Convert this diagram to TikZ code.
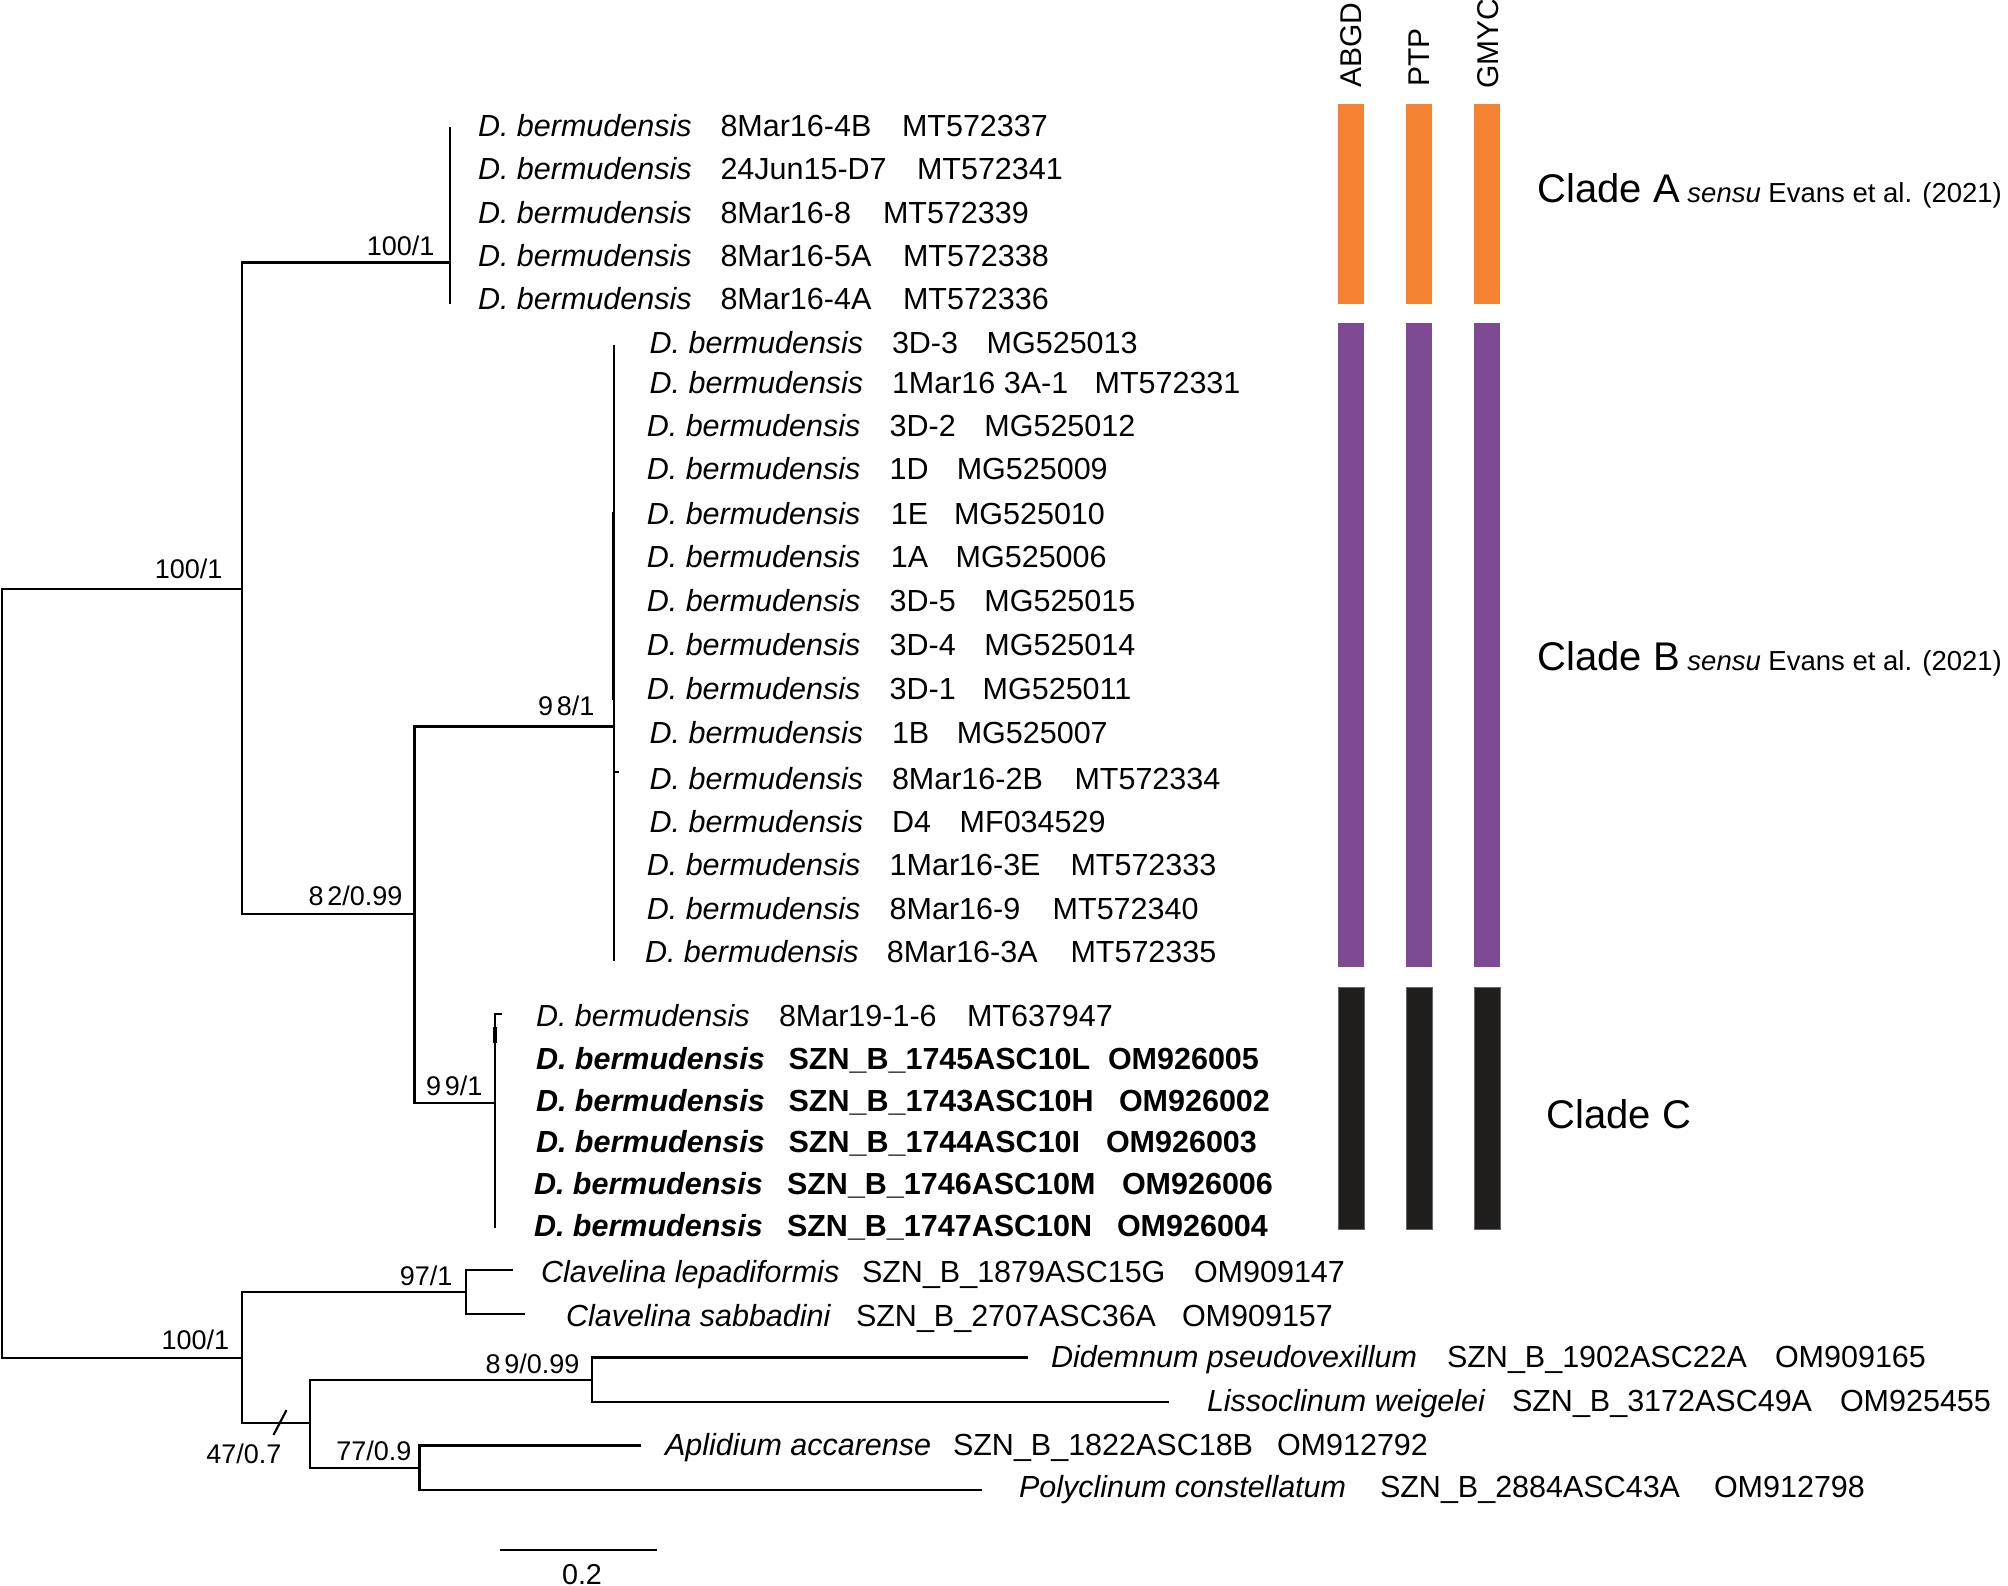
\documentclass[tikz,border=0pt]{standalone}
\usepackage{fontspec}
\setmainfont{Liberation Sans}
\definecolor{cladeA}{RGB}{245,130,50}
\definecolor{cladeB}{RGB}{127,74,148}
\definecolor{cladeC}{RGB}{32,30,28}
\newcommand{\tipR}[8]{%
  \node[tiptext] (#1s) at (#3,#2+11) {#4};
  \node[tiptext] (#1i) at (#5,#2+11) {#6};
  \node[tiptext] (#1a) at (#7,#2+11) {#8};}
\begin{document}
\begin{tikzpicture}[x=0.4pt,y=-0.4pt,
  br/.style={line width=0.85pt,line cap=rect},
  tiptext/.style={inner sep=0pt,outer sep=0pt,anchor=base west,font=\fontsize{12.2}{14}\selectfont},
  sup/.style={inner sep=0pt,anchor=base east,font=\fontsize{10.8}{12}\selectfont},
  meth/.style={inner sep=0pt,anchor=base west,rotate=90,font=\fontsize{12}{14}\selectfont},
  clade/.style={inner sep=0pt,anchor=base west,font=\fontsize{16}{18}\selectfont},
  barA/.style={fill=cladeA,draw=none},
  barB/.style={fill=cladeB,draw=none},
  barC/.style={fill=cladeC,draw=black!60,line width=0.3pt}]
\useasboundingbox (0,0) rectangle (2008,1586);
% ---------- tree coordinates
\coordinate (root) at (2,973);
\coordinate (N1) at (242,589);
\coordinate (A) at (449.6,262.5);
\coordinate (aTop) at (449.6,128);
\coordinate (aBot) at (449.6,303);
\coordinate (N2) at (414.5,914);
\coordinate (B) at (614,726.5);
\coordinate (bTop) at (614,346);
\coordinate (bBot) at (614,960);
\coordinate (bThTop) at (613.3,512);
\coordinate (bThBot) at (613.3,700);
\coordinate (bTkBase) at (614,772);
\coordinate (bTk) at (618,772);
\coordinate (C) at (495,1102.7);
\coordinate (cTopTip) at (501,1014);
\coordinate (cBot) at (495,1227);
\coordinate (cThTop) at (494.8,1027);
\coordinate (cThBot) at (494.8,1043);
\coordinate (N3) at (242,1358);
\coordinate (Clav) at (466,1291.7);
\coordinate (tLep) at (512,1270);
\coordinate (tSab) at (523.5,1314);
\coordinate (N4) at (310,1423);
\coordinate (D89) at (592,1380);
\coordinate (tDid) at (1027,1357.5);
\coordinate (tLis) at (1168,1402);
\coordinate (D77) at (419.5,1467.7);
\coordinate (tApl) at (639.5,1445.5);
\coordinate (tPol) at (980.5,1489.7);
\coordinate (slA) at (286,1411);
\coordinate (slB) at (274,1434);
% ---------- branches
\draw[br] (root) |- (N1);
\draw[br] (root) |- (N3);
\draw[br] (N1) |- (A);
\draw[br] (N1) |- (N2);
\draw[br] (aTop) -- (aBot);
\draw[br] (N2) |- (B);
\draw[br] (N2) |- (C);
\draw[br] (bTop) -- (bBot);
\draw[line width=1.4pt] (bThTop) -- (bThBot);
\draw[br] (bTkBase) -- (bTk);
\draw[br] (cTopTip) -| (cBot);
\draw[line width=1.4pt] (cThTop) -- (cThBot);
\draw[br] (N3) |- (Clav);
\draw[br] (N3) |- (N4);
\draw[br] (Clav) |- (tLep);
\draw[br] (Clav) |- (tSab);
\draw[br] (N4) |- (D89);
\draw[br] (N4) |- (D77);
\draw[br] (D89) |- (tDid);
\draw[br] (D89) |- (tLis);
\draw[br] (D77) |- (tApl);
\draw[br] (D77) |- (tPol);
\draw[br] (slA) -- (slB);
% ---------- support values
\node[sup] (sN1) at (223,578) {100/1};
\node[sup] (sA) at (435,255) {100/1};
\node[sup] (sN2) at (403,905) {8\kern1.5pt 2/0.99};
\node[sup] (sB) at (595,715) {9\kern1.5pt 8/1};
\node[sup] (sC) at (483,1095) {9\kern1.5pt 9/1};
\node[sup] (sN3) at (229.6,1349) {100/1};
\node[sup] (sClav) at (453,1285) {97/1};
\node[sup] (s89) at (580,1373) {8\kern1.5pt 9/0.99};
\node[sup] (s77) at (412,1460) {77/0.9};
\node[sup] (s47) at (282,1463) {47/0.7};
% ---------- scale bar
\coordinate (scL) at (501.5,1550);
\coordinate (scR) at (655.6,1550);
\draw[br] (scL) -- (scR);
\node[inner sep=0pt,anchor=base,font=\fontsize{11.5}{13}\selectfont] (scT) at (582,1584) {0.2};
% ---------- clade A tips
\tipR{a1}{125.5}{478}{\textit{D. bermudensis}}{720.5}{8Mar16-4B}{902}{MT572337}
\tipR{a2}{168.8}{478}{\textit{D. bermudensis}}{720.5}{24Jun15-D7}{917}{MT572341}
\tipR{a3}{212}{478}{\textit{D. bermudensis}}{720.5}{8Mar16-8}{883}{MT572339}
\tipR{a4}{255.3}{478}{\textit{D. bermudensis}}{720.5}{8Mar16-5A}{903}{MT572338}
\tipR{a5}{298.6}{478}{\textit{D. bermudensis}}{720.5}{8Mar16-4A}{903}{MT572336}
% ---------- clade B tips
\tipR{b1}{342.4}{649.7}{\textit{D. bermudensis}}{892}{3D-3}{986.7}{MG525013}
\tipR{b2}{382.6}{649.7}{\textit{D. bermudensis}}{892}{1Mar16 3A-1}{1094.6}{MT572331}
\tipR{b3}{425}{646.8}{\textit{D. bermudensis}}{889.7}{3D-2}{984.4}{MG525012}
\tipR{b4}{468.8}{646.8}{\textit{D. bermudensis}}{889.7}{1D}{956.8}{MG525009}
\tipR{b5}{513}{646.8}{\textit{D. bermudensis}}{890.8}{1E}{954}{MG525010}
\tipR{b6}{556.7}{646.8}{\textit{D. bermudensis}}{890.8}{1A}{955.7}{MG525006}
\tipR{b7}{600}{646.8}{\textit{D. bermudensis}}{889.7}{3D-5}{984.4}{MG525015}
\tipR{b8}{644.6}{646.8}{\textit{D. bermudensis}}{889.7}{3D-4}{984.4}{MG525014}
\tipR{b9}{688}{646.8}{\textit{D. bermudensis}}{889.7}{3D-1}{982.7}{MG525011}
\tipR{b10}{732}{649.7}{\textit{D. bermudensis}}{892}{1B}{956.8}{MG525007}
\tipR{b11}{778.6}{649.7}{\textit{D. bermudensis}}{892}{8Mar16-2B}{1074.5}{MT572334}
\tipR{b12}{821}{649.7}{\textit{D. bermudensis}}{892}{D4}{959.7}{MF034529}
\tipR{b13}{864.7}{646.8}{\textit{D. bermudensis}}{889.7}{1Mar16-3E}{1070.5}{MT572333}
\tipR{b14}{908}{646.8}{\textit{D. bermudensis}}{889.7}{8Mar16-9}{1052.7}{MT572340}
\tipR{b15}{951.8}{645}{\textit{D. bermudensis}}{886.8}{8Mar16-3A}{1070.5}{MT572335}
% ---------- clade C tips
\tipR{c1}{1015}{536}{\textit{D. bermudensis}}{779}{8Mar19-1-6}{967}{MT637947}
\tipR{c2}{1058}{536}{\textbf{\textit{D. bermudensis}}}{788.6}{\textbf{SZN\_B\_1745ASC10L}}{1108}{\textbf{OM926005}}
\tipR{c3}{1100}{536}{\textbf{\textit{D. bermudensis}}}{788.6}{\textbf{SZN\_B\_1743ASC10H}}{1119}{\textbf{OM926002}}
\tipR{c4}{1141.7}{536}{\textbf{\textit{D. bermudensis}}}{788.6}{\textbf{SZN\_B\_1744ASC10I}}{1106}{\textbf{OM926003}}
\tipR{c5}{1183}{534}{\textbf{\textit{D. bermudensis}}}{787}{\textbf{SZN\_B\_1746ASC10M}}{1122}{\textbf{OM926006}}
\tipR{c6}{1225}{534}{\textbf{\textit{D. bermudensis}}}{787}{\textbf{SZN\_B\_1747ASC10N}}{1117}{\textbf{OM926004}}
% ---------- outgroup tips
\tipR{o1}{1271}{541}{\textit{Clavelina lepadiformis}}{862}{SZN\_B\_1879ASC15G}{1194}{OM909147}
\tipR{o2}{1315}{566}{\textit{Clavelina sabbadini}}{856}{SZN\_B\_2707ASC36A}{1182}{OM909157}
\tipR{o3}{1356.5}{1051}{\textit{Didemnum pseudovexillum}}{1447}{SZN\_B\_1902ASC22A}{1775}{OM909165}
\tipR{o4}{1400}{1207}{\textit{Lissoclinum weigelei}}{1512}{SZN\_B\_3172ASC49A}{1840}{OM925455}
\tipR{o5}{1444.5}{665}{\textit{Aplidium accarense}}{953}{SZN\_B\_1822ASC18B}{1277}{OM912792}
\tipR{o6}{1486}{1019}{\textit{Polyclinum constellatum}}{1380}{SZN\_B\_2884ASC43A}{1714}{OM912798}
% ---------- delimitation bars
\node[meth] (mABGD) at (1361,88) {ABGD};
\node[meth] (mPTP) at (1429,87) {PTP};
\node[meth] (mGMYC) at (1498.6,89) {GMYC};
\fill[barA] (1338,104) rectangle (1364,304);
\fill[barA] (1406,104) rectangle (1432,304);
\fill[barA] (1474,104) rectangle (1500,304);
\fill[barB] (1338,323) rectangle (1364,967);
\fill[barB] (1406,323) rectangle (1432,967);
\fill[barB] (1474,323) rectangle (1500,967);
\filldraw[barC] (1338,987) rectangle (1364,1229);
\filldraw[barC] (1406,987) rectangle (1432,1229);
\filldraw[barC] (1474,987) rectangle (1500,1229);
% ---------- clade labels
\node[clade] (lA) at (1537,202) {Clade A\fontsize{11}{13}\selectfont\ \textit{sensu} Evans et al. (2021)};
\node[clade] (lB) at (1537,670) {Clade B\fontsize{11}{13}\selectfont\ \textit{sensu} Evans et al. (2021)};
\node[clade] (lC) at (1546,1128.6) {Clade C};
\end{tikzpicture}
\end{document}
